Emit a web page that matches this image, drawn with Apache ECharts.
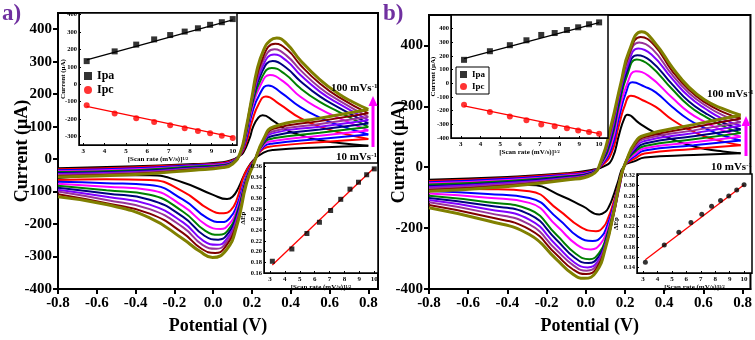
<!DOCTYPE html>
<html>
<head>
<meta charset="utf-8">
<script src="https://cdn.jsdelivr.net/npm/echarts@6/dist/echarts.min.js"></script>
<style>
  html, body { margin: 0; padding: 0; background: #fff; }
  #chart { width: 755px; height: 340px; }
</style>
</head>
<body>
<div id="chart"></div>
<script>
// scan rates 10..100 mV/s and their square roots (inset x values)
const scanRates = [10, 20, 30, 40, 50, 60, 70, 80, 90, 100]
const sqrtScan = [3.16, 4.47, 5.48, 6.32, 7.07, 7.75, 8.37, 8.94, 9.49, 10]

// peak currents (uA) and peak separation (V)
const ipaA = [133, 189, 228, 258, 283, 303, 322, 342, 357, 375]
const ipcA = [-121, -168, -196, -218, -236, -253, -269, -283, -297, -309]
const dEpA = [0.182, 0.205, 0.234, 0.255, 0.277, 0.298, 0.317, 0.330, 0.344, 0.355]
const ipaB = [172, 235, 279, 315, 354, 368, 390, 410, 432, 446]
const ipcB = [-156, -209, -243, -270, -301, -314, -328, -345, -357, -369]
const dEpB = [0.150, 0.184, 0.209, 0.228, 0.244, 0.260, 0.271, 0.280, 0.2915, 0.302]

// fitted straight lines, end points
const fitIpaA = [[3.16, 140], [10, 370]]
const fitIpcA = [[3.16, -128], [10, -305]]
const fitEpA = [[3.16, 0.175], [10, 0.357]]
const fitIpaB = [[3.16, 180], [10, 445]]
const fitIpcB = [[3.16, -165], [10, -368]]
const fitEpB = [[3.16, 0.155], [10, 0.302]]

// CV curves [E (V), I (uA)], forward (anodic) and reverse (cathodic) sweeps
const cvForwardA = [
  [[-0.8, -28], [-0.4, -22], [-0.1, -15], [0.05, -10], [0.1, -2], [0.13, 8], [0.155, 20], [0.19, 68], [0.205, 98], [0.233, 128], [0.255, 135], [0.31, 118], [0.38, 89], [0.45, 74], [0.55, 58], [0.65, 50], [0.8, 41]],
  [[-0.8, -31], [-0.4, -25], [-0.1, -17], [0.05, -12], [0.1, -4], [0.14, 12], [0.17, 50], [0.2, 115], [0.235, 170], [0.272, 193], [0.34, 170], [0.45, 126], [0.55, 100], [0.65, 82], [0.8, 62]],
  [[-0.8, -34], [-0.4, -28], [-0.1, -19], [0.05, -14], [0.1, -6], [0.14, 14], [0.17, 62], [0.2, 140], [0.24, 200], [0.284, 227], [0.35, 205], [0.45, 160], [0.55, 128], [0.65, 104], [0.8, 76]],
  [[-0.8, -37], [-0.4, -31], [-0.1, -21], [0.05, -16], [0.1, -8], [0.14, 15], [0.17, 72], [0.2, 155], [0.245, 228], [0.293, 259], [0.36, 240], [0.45, 192], [0.55, 155], [0.65, 126], [0.8, 88]],
  [[-0.8, -40], [-0.4, -34], [-0.1, -23], [0.05, -18], [0.1, -9], [0.14, 16], [0.17, 78], [0.2, 165], [0.25, 250], [0.302, 281], [0.37, 262], [0.45, 218], [0.55, 176], [0.65, 145], [0.8, 99]],
  [[-0.8, -43], [-0.4, -37], [-0.1, -26], [0.05, -20], [0.1, -11], [0.14, 17], [0.17, 84], [0.2, 172], [0.25, 266], [0.307, 302], [0.375, 282], [0.45, 240], [0.55, 193], [0.65, 158], [0.8, 110]],
  [[-0.8, -46], [-0.4, -40], [-0.1, -28], [0.05, -22], [0.1, -12], [0.14, 18], [0.17, 88], [0.2, 180], [0.255, 285], [0.314, 322], [0.38, 302], [0.45, 259], [0.55, 208], [0.65, 170], [0.8, 120]],
  [[-0.8, -49], [-0.4, -42], [-0.1, -30], [0.05, -23], [0.1, -13], [0.14, 19], [0.17, 91], [0.2, 184], [0.255, 298], [0.316, 338], [0.38, 318], [0.45, 274], [0.55, 220], [0.65, 180], [0.8, 130]],
  [[-0.8, -52], [-0.4, -45], [-0.1, -32], [0.05, -25], [0.1, -14], [0.14, 19], [0.17, 94], [0.2, 188], [0.26, 318], [0.32, 355], [0.385, 335], [0.45, 290], [0.55, 233], [0.65, 190], [0.8, 141]],
  [[-0.8, -55], [-0.4, -47], [-0.1, -34], [0.05, -26], [0.1, -15], [0.14, 20], [0.17, 96], [0.2, 191], [0.225, 272], [0.26, 336], [0.295, 366], [0.328, 373], [0.38, 355], [0.45, 304], [0.55, 245], [0.65, 200], [0.72, 176], [0.8, 153]]
]
const cvReverseA = [
  [[0.8, 41], [0.55, 36], [0.31, 28], [0.26, 20], [0.21, -2], [0.172, -34], [0.129, -90], [0.1, -116], [0.072, -123], [0.0, -110], [-0.155, -72], [-0.327, -50], [-0.55, -50], [-0.8, -58]],
  [[0.8, 62], [0.55, 52], [0.31, 40], [0.26, 32], [0.21, -4], [0.164, -44], [0.121, -126], [0.09, -158], [0.055, -167], [-0.02, -155], [-0.155, -100], [-0.327, -64], [-0.55, -62], [-0.8, -64]],
  [[0.8, 76], [0.55, 62], [0.31, 48], [0.26, 38], [0.21, -6], [0.172, -50], [0.121, -145], [0.085, -182], [0.043, -194], [-0.03, -182], [-0.155, -125], [-0.327, -80], [-0.55, -74], [-0.8, -70]],
  [[0.8, 88], [0.55, 72], [0.31, 56], [0.26, 43], [0.21, -7], [0.172, -55], [0.121, -158], [0.08, -202], [0.038, -215], [-0.035, -203], [-0.155, -145], [-0.327, -95], [-0.55, -85], [-0.8, -76]],
  [[0.8, 99], [0.55, 81], [0.31, 64], [0.26, 48], [0.21, -8], [0.172, -59], [0.121, -168], [0.075, -220], [0.031, -233], [-0.04, -221], [-0.155, -162], [-0.327, -110], [-0.55, -96], [-0.8, -82]],
  [[0.8, 110], [0.55, 91], [0.31, 72], [0.26, 52], [0.21, -9], [0.172, -63], [0.121, -176], [0.07, -234], [0.026, -248], [-0.045, -236], [-0.155, -178], [-0.327, -125], [-0.55, -106], [-0.8, -88]],
  [[0.8, 120], [0.55, 100], [0.31, 80], [0.26, 55], [0.21, -10], [0.172, -67], [0.121, -185], [0.066, -249], [0.021, -264], [-0.05, -252], [-0.155, -195], [-0.327, -140], [-0.55, -116], [-0.8, -94]],
  [[0.8, 130], [0.55, 108], [0.31, 86], [0.26, 58], [0.21, -11], [0.172, -70], [0.121, -192], [0.062, -261], [0.017, -276], [-0.055, -264], [-0.155, -210], [-0.327, -154], [-0.55, -126], [-0.8, -100]],
  [[0.8, 141], [0.55, 117], [0.31, 93], [0.26, 60], [0.21, -12], [0.172, -72], [0.121, -200], [0.058, -274], [0.01, -289], [-0.06, -276], [-0.155, -228], [-0.327, -168], [-0.55, -136], [-0.8, -108]],
  [[0.8, 153], [0.55, 126], [0.31, 99], [0.26, 62], [0.21, -13], [0.172, -75], [0.121, -208], [0.069, -279], [-0.003, -303], [-0.069, -284], [-0.155, -246], [-0.327, -181], [-0.55, -140], [-0.8, -116]]
]
const cvForwardB = [
  [[-0.8, -41], [-0.4, -32], [-0.1, -20], [0.03, -9], [0.1, 5], [0.136, 30], [0.17, 108], [0.195, 158], [0.212, 172], [0.272, 145], [0.34, 118], [0.44, 92], [0.53, 72], [0.61, 60], [0.7, 52], [0.79, 46]],
  [[-0.8, -45], [-0.4, -35], [-0.1, -22], [0.03, -12], [0.08, 5], [0.13, 45], [0.17, 140], [0.2, 205], [0.23, 235], [0.29, 220], [0.357, 198], [0.441, 156], [0.526, 124], [0.61, 100], [0.7, 84], [0.79, 72]],
  [[-0.8, -49], [-0.4, -38], [-0.1, -25], [0.03, -14], [0.08, 8], [0.13, 60], [0.17, 165], [0.205, 245], [0.238, 279], [0.3, 265], [0.357, 246], [0.441, 198], [0.526, 156], [0.61, 128], [0.7, 104], [0.79, 88]],
  [[-0.8, -53], [-0.4, -42], [-0.1, -27], [0.03, -16], [0.08, 11], [0.13, 75], [0.17, 185], [0.21, 272], [0.255, 315], [0.32, 300], [0.441, 228], [0.526, 180], [0.61, 148], [0.7, 120], [0.79, 100]],
  [[-0.8, -57], [-0.4, -45], [-0.1, -30], [0.03, -18], [0.08, 14], [0.13, 90], [0.17, 205], [0.21, 300], [0.26, 354], [0.325, 335], [0.441, 256], [0.526, 202], [0.61, 166], [0.7, 135], [0.79, 112]],
  [[-0.8, -62], [-0.4, -49], [-0.1, -32], [0.03, -19], [0.08, 16], [0.13, 100], [0.17, 218], [0.21, 315], [0.263, 368], [0.33, 350], [0.441, 272], [0.526, 216], [0.61, 178], [0.7, 146], [0.79, 124]],
  [[-0.8, -66], [-0.4, -52], [-0.1, -35], [0.03, -21], [0.08, 19], [0.13, 112], [0.17, 232], [0.215, 337], [0.268, 390], [0.335, 370], [0.441, 290], [0.526, 232], [0.61, 192], [0.7, 158], [0.79, 136]],
  [[-0.8, -70], [-0.4, -56], [-0.1, -37], [0.03, -22], [0.08, 21], [0.13, 122], [0.17, 245], [0.215, 352], [0.272, 410], [0.34, 388], [0.441, 303], [0.526, 244], [0.61, 203], [0.7, 170], [0.79, 148]],
  [[-0.8, -75], [-0.4, -60], [-0.1, -40], [0.03, -24], [0.08, 23], [0.13, 131], [0.175, 262], [0.22, 370], [0.28, 428], [0.35, 400], [0.441, 316], [0.526, 254], [0.61, 212], [0.7, 181], [0.79, 160]],
  [[-0.8, -79], [-0.4, -63], [-0.1, -42], [0.03, -25], [0.08, 25], [0.13, 140], [0.18, 280], [0.22, 380], [0.285, 445], [0.357, 405], [0.441, 328], [0.526, 263], [0.61, 220], [0.695, 193], [0.79, 171]]
]
const cvReverseB = [
  [[0.79, 46], [0.55, 40], [0.3, 32], [0.25, 20], [0.196, 5], [0.162, -52], [0.14, -95], [0.119, -128], [0.1, -146], [0.069, -155], [-0.016, -128], [-0.118, -96], [-0.288, -58], [-0.5, -58], [-0.8, -62]],
  [[0.79, 72], [0.55, 60], [0.3, 45], [0.25, 28], [0.198, 6], [0.165, -62], [0.14, -118], [0.115, -165], [0.09, -196], [0.052, -210], [-0.03, -195], [-0.14, -140], [-0.288, -79], [-0.5, -72], [-0.8, -70]],
  [[0.79, 88], [0.55, 72], [0.3, 55], [0.25, 36], [0.2, 8], [0.165, -66], [0.14, -130], [0.11, -190], [0.08, -228], [0.035, -242], [-0.04, -228], [-0.14, -170], [-0.288, -101], [-0.5, -88], [-0.8, -78]],
  [[0.79, 100], [0.55, 82], [0.3, 62], [0.25, 42], [0.2, 10], [0.165, -70], [0.14, -138], [0.11, -205], [0.075, -252], [0.026, -270], [-0.045, -255], [-0.145, -195], [-0.288, -117], [-0.5, -100], [-0.8, -86]],
  [[0.79, 112], [0.55, 92], [0.3, 70], [0.25, 50], [0.2, 12], [0.168, -68], [0.14, -148], [0.105, -228], [0.07, -280], [0.018, -302], [-0.05, -285], [-0.15, -222], [-0.288, -139], [-0.5, -115], [-0.8, -94]],
  [[0.79, 124], [0.55, 102], [0.3, 78], [0.25, 56], [0.2, 14], [0.168, -72], [0.14, -152], [0.105, -236], [0.065, -294], [0.014, -315], [-0.055, -298], [-0.15, -238], [-0.288, -155], [-0.5, -126], [-0.8, -101]],
  [[0.79, 136], [0.55, 112], [0.3, 86], [0.25, 62], [0.202, 15], [0.17, -70], [0.14, -158], [0.103, -246], [0.06, -310], [0.009, -329], [-0.06, -312], [-0.15, -256], [-0.288, -172], [-0.5, -138], [-0.8, -108]],
  [[0.79, 148], [0.55, 121], [0.3, 93], [0.25, 68], [0.203, 16], [0.172, -64], [0.142, -156], [0.103, -252], [0.058, -320], [0.004, -340], [-0.062, -323], [-0.15, -272], [-0.288, -188], [-0.5, -150], [-0.8, -115]],
  [[0.79, 160], [0.55, 131], [0.3, 99], [0.25, 74], [0.204, 18], [0.175, -50], [0.144, -148], [0.103, -256], [0.055, -332], [0.001, -351], [-0.065, -336], [-0.15, -287], [-0.288, -204], [-0.5, -163], [-0.8, -124]],
  [[0.79, 171], [0.55, 140], [0.3, 105], [0.25, 80], [0.206, 20], [0.179, -30], [0.145, -139], [0.103, -259], [0.052, -345], [-0.008, -365], [-0.067, -351], [-0.151, -302], [-0.288, -221], [-0.5, -176], [-0.8, -133]]
]

// tick labels
const xTicksMain = [-0.8, -0.6, -0.4, -0.2, 0, 0.2, 0.4, 0.6, 0.8]
const yTicksA = [-400, -300, -200, -100, 0, 100, 200, 300, 400]
const yTicksB = [-400, -200, 0, 200, 400]
const xTicksInset = [3, 4, 5, 6, 7, 8, 9, 10]
const yTicksA1 = [-300, -200, -100, 0, 100, 200, 300, 400]
const yTicksA2 = [0.16, 0.18, 0.2, 0.22, 0.24, 0.26, 0.28, 0.3, 0.32, 0.34, 0.36]
const yTicksB1 = [-400, -300, -200, -100, 0, 100, 200, 300, 400]
const yTicksB2 = [0.14, 0.16, 0.18, 0.2, 0.22, 0.24, 0.26, 0.28, 0.3, 0.32]

const palette = ['#000000', '#ff0000', '#0000ff', '#ff00ff', '#008000', '#000080', '#8000ff', '#993399', '#800000', '#808000']
const serif = '"Liberation Serif", "DejaVu Serif", serif'

const chart = echarts.init(document.getElementById('chart'))

function fmt(digits) {
  return function (v) {
    if (Math.abs(v) < 1e-9) v = 0
    return digits ? v.toFixed(digits) : String(Math.round(v))
  }
}

function mainX(grid, max) {
  return {
    gridIndex: grid, type: 'value', min: -0.8, max: max,
    axisLine: { onZero: false, lineStyle: { color: '#000', width: 2 } },
    axisTick: { customValues: xTicksMain, length: 5, lineStyle: { color: '#000', width: 2 } },
    axisLabel: { customValues: xTicksMain, formatter: fmt(1), color: '#000', fontFamily: serif, fontWeight: 'bold', fontSize: 15, margin: 7 },
    splitLine: { show: false },
    name: 'Potential (V)', nameLocation: 'middle', nameGap: 28, nameMoveOverlap: false,
    nameTextStyle: { color: '#000', fontFamily: serif, fontWeight: 'bold', fontSize: 18 }
  }
}

function mainY(grid, min, max, ticks, gap) {
  return {
    gridIndex: grid, type: 'value', min: min, max: max,
    axisLine: { onZero: false, lineStyle: { color: '#000', width: 2 } },
    axisTick: { customValues: ticks, length: 5, lineStyle: { color: '#000', width: 2 } },
    axisLabel: { customValues: ticks, formatter: fmt(0), color: '#000', fontFamily: serif, fontWeight: 'bold', fontSize: 15, margin: 6 },
    splitLine: { show: false },
    name: 'Current (μA)', nameLocation: 'middle', nameGap: gap, nameMoveOverlap: false,
    nameTextStyle: { color: '#000', fontFamily: serif, fontWeight: 'bold', fontSize: 18 }
  }
}

function insetX(grid, min, max) {
  return {
    gridIndex: grid, type: 'value', min: min, max: max, z: 6,
    axisLine: { onZero: false, lineStyle: { color: '#000', width: 1 } },
    axisTick: { customValues: xTicksInset, inside: true, length: 2, lineStyle: { color: '#000' } },
    axisLabel: { customValues: xTicksInset, formatter: fmt(0), color: '#000', fontFamily: serif, fontWeight: 'bold', fontSize: 7, margin: 3 },
    splitLine: { show: false },
    name: '{t|[Scan rate (mV/s)]}{s|1/2}', nameLocation: 'middle', nameGap: 11, nameMoveOverlap: false,
    nameTextStyle: {
      rich: {
        t: { color: '#000', fontFamily: serif, fontWeight: 'bold', fontSize: 7 },
        s: { color: '#000', fontFamily: serif, fontWeight: 'bold', fontSize: 4.5, verticalAlign: 'top' }
      }
    }
  }
}

function insetY(grid, min, max, ticks, digits, title, gap) {
  return {
    gridIndex: grid, type: 'value', min: min, max: max, z: 6,
    axisLine: { onZero: false, lineStyle: { color: '#000', width: 1 } },
    axisTick: { customValues: ticks, inside: true, length: 2, lineStyle: { color: '#000' } },
    axisLabel: { customValues: ticks, formatter: fmt(digits), color: '#000', fontFamily: serif, fontWeight: 'bold', fontSize: 6.5, margin: 2 },
    splitLine: { show: false },
    name: title, nameLocation: 'middle', nameGap: gap, nameMoveOverlap: false,
    nameTextStyle: { color: '#000', fontFamily: serif, fontWeight: 'bold', fontSize: 7 }
  }
}

const insetGrid = { show: true, borderColor: '#000', borderWidth: 1.5, backgroundColor: '#fff', z: 5 }

const series = []
function addCV(forward, reverse, axis) {
  forward.forEach((pts, k) => {
    [pts, reverse[k]].forEach(branch => {
      series.push({
        type: 'line', xAxisIndex: axis, yAxisIndex: axis, data: branch,
        showSymbol: false, smooth: 0.5, silent: true, z: 2,
        lineStyle: { color: palette[k], width: k === 9 ? 3 : 2 }
      })
    })
  })
}
addCV(cvForwardA, cvReverseA, 0)
addCV(cvForwardB, cvReverseB, 3)

function pairs(ys) { return sqrtScan.map((x, i) => [x, ys[i]]) }
function fitLine(data, axis, color) {
  return { type: 'line', xAxisIndex: axis, yAxisIndex: axis, data: data, showSymbol: false, silent: true, z: 10, lineStyle: { color: color, width: 1.3 } }
}
function dots(name, ys, axis, symbol, color, size) {
  return { name: name, type: 'scatter', xAxisIndex: axis, yAxisIndex: axis, data: pairs(ys), symbol: symbol, symbolSize: size, silent: true, z: 11, itemStyle: { color: color } }
}
series.push(
  fitLine(fitIpaA, 1, '#000'), fitLine(fitIpcA, 1, '#ff0000'),
  dots('Ipa', ipaA, 1, 'rect', '#000', 6), dots('Ipc', ipcA, 1, 'circle', '#ff0000', 6),
  fitLine(fitEpA, 2, '#ff0000'), dots('dEpA', dEpA, 2, 'rect', '#000', 5),
  fitLine(fitIpaB, 4, '#000'), fitLine(fitIpcB, 4, '#ff0000'),
  dots('Ipa', ipaB, 4, 'rect', '#000', 6), dots('Ipc', ipcB, 4, 'circle', '#ff0000', 6),
  fitLine(fitEpB, 5, '#ff0000'), dots('dEpB', dEpB, 5, 'circle', '#000', 5)
)

function label(x, y, main) {
  return {
    type: 'text', x: x, y: y, z: 20, silent: true,
    style: {
      text: main + '{s|-1}', fill: '#000', font: 'bold 11px ' + serif,
      rich: { s: { fill: '#000', font: 'bold 7px ' + serif, verticalAlign: 'top' } }
    }
  }
}
function arrow(x, y0, y1) {
  return [
    { type: 'line', z: 20, silent: true, shape: { x1: x, y1: y0, x2: x, y2: y1 + 8 }, style: { stroke: '#ff00ff', lineWidth: 3 } },
    { type: 'polygon', z: 20, silent: true, shape: { points: [[x - 4.5, y1 + 10], [x + 4.5, y1 + 10], [x, y1]] }, style: { fill: '#ff00ff' } }
  ]
}

chart.setOption({
  animation: false,
  grid: [
    { left: 58, top: 13, width: 320, height: 277, show: true, borderColor: '#000', borderWidth: 2 },
    Object.assign({ left: 79, top: 13, width: 158, height: 132 }, insetGrid),
    Object.assign({ left: 264, top: 163, width: 114, height: 110 }, insetGrid),
    { left: 429, top: 15, width: 323, height: 275, show: true, borderColor: '#000', borderWidth: 2 },
    Object.assign({ left: 451, top: 15, width: 157, height: 123 }, insetGrid),
    Object.assign({ left: 637, top: 174, width: 115, height: 99 }, insetGrid)
  ],
  xAxis: [
    mainX(0, 0.85),
    insetX(1, 2.8, 10.2),
    insetX(2, 2.6, 10.25),
    mainX(3, 0.84),
    insetX(4, 2.5, 10.45),
    insetX(5, 2.58, 10.55)
  ],
  yAxis: [
    mainY(0, -400, 450, yTicksA, 27),
    insetY(1, -350, 410, yTicksA1, 0, 'Current (μA)', 12),
    insetY(2, 0.16, 0.366, yTicksA2, 2, 'ΔEp', 17),
    mainY(3, -400, 500, yTicksB, 21),
    insetY(4, -400, 500, yTicksB1, 0, 'Current (μA)', 14),
    insetY(5, 0.129, 0.323, yTicksB2, 2, 'ΔEp', 17)
  ],
  legend: [
    {
      data: [{ name: 'Ipa', icon: 'rect' }, { name: 'Ipc', icon: 'circle' }],
      left: 84, top: 70, orient: 'vertical', itemWidth: 8, itemHeight: 8, itemGap: 2, padding: 0, z: 12,
      selectedMode: false,
      textStyle: { color: '#000', fontFamily: serif, fontWeight: 'bold', fontSize: 12, lineHeight: 12 }
    },
    {
      data: [{ name: 'Ipa', icon: 'rect' }, { name: 'Ipc', icon: 'circle' }],
      left: 456, top: 67, orient: 'vertical', itemWidth: 7, itemHeight: 7, itemGap: 3, itemTextGap: 4,
      padding: [3, 4, 3, 4], borderColor: '#000', borderWidth: 1, z: 12, selectedMode: false,
      textStyle: { color: '#000', fontFamily: serif, fontWeight: 'bold', fontSize: 9, lineHeight: 9 }
    }
  ],
  graphic: [
    { type: 'text', x: 2, y: 3, z: 20, silent: true, style: { text: 'a)', fill: '#7030a0', font: 'bold 23px ' + serif } },
    { type: 'text', x: 383, y: 3, z: 20, silent: true, style: { text: 'b)', fill: '#7030a0', font: 'bold 23px ' + serif } },
    label(331, 83, '100 mVs'),
    label(336, 152, '10 mVs'),
    label(707, 89, '100 mVs'),
    label(711, 162, '10 mVs'),
    ...arrow(373, 147, 96),
    ...arrow(746, 156, 116)
  ],
  series: series
})
</script>
</body>
</html>
